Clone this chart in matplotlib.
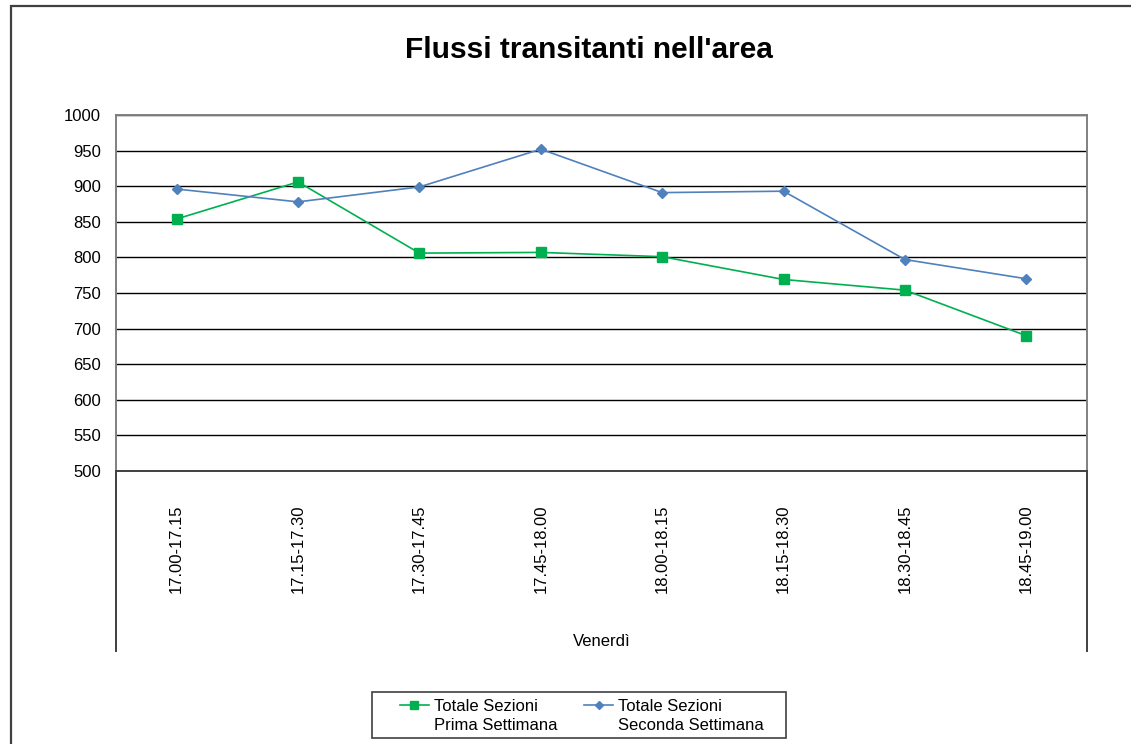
import matplotlib
matplotlib.use("Agg")
import matplotlib.pyplot as plt
from matplotlib.patches import Rectangle
from matplotlib.legend_handler import HandlerLine2D
from matplotlib.transforms import Affine2D

plt.rcParams['font.family'] = ['Liberation Sans', 'DejaVu Sans']

# fasce orarie del venerdì
fasce = ["17.00-17.15", "17.15-17.30", "17.30-17.45", "17.45-18.00",
         "18.00-18.15", "18.15-18.30", "18.30-18.45", "18.45-19.00"]
prima_settimana = [854, 906, 806, 807, 801, 769, 754, 690]
seconda_settimana = [896, 878, 899, 952, 891, 893, 797, 770]
yticks = list(range(500, 1001, 50))

W, H = 1131, 744
fig = plt.figure(figsize=(W / 100, H / 100), dpi=100)

# cornice esterna del grafico
fig.add_artist(Rectangle((11 / W, -0.1), 2, 1 - 6 / H + 0.1, transform=fig.transFigure,
                         fill=False, edgecolor='#404040', linewidth=1.6))

left, right, top, bottom = 116, 1087, 115, 471
ax = fig.add_axes([left / W, 1 - bottom / H, (right - left) / W, (bottom - top) / H])

x = list(range(len(fasce)))
ax.plot(x, prima_settimana, color='#00B050', linewidth=1.2, marker='s', markersize=6.5,
        label="Totale Sezioni\nPrima Settimana")
ax.plot(x, seconda_settimana, color='#4F81BD', linewidth=1.2, marker='D', markersize=5,
        label="Totale Sezioni\nSeconda Settimana")

ax.set_xlim(-0.5, len(fasce) - 0.5)
ax.set_ylim(500, 1000)
ax.set_yticks(yticks)
ax.set_yticklabels([str(v) for v in yticks], fontsize=12)
ax.set_xticks(x)
ax.set_xticklabels(fasce, rotation=90, fontsize=12, va='top')
ax.tick_params(axis='both', length=0)
ax.tick_params(axis='x', pad=24)
ax.tick_params(axis='y', pad=11)

ax.grid(axis='y', color='black', linewidth=1)
ax.set_axisbelow(True)
for s in ['left', 'top', 'right']:
    ax.spines[s].set_color('#808080')
    ax.spines[s].set_linewidth(1.4)
ax.spines['bottom'].set_color('#404040')
ax.spines['bottom'].set_linewidth(1.4)

# prolungamento dell'asse delle categorie
ext = -(651 - bottom) / (bottom - top)
for xa in (0, 1):
    ax.plot([xa, xa], [0, ext], transform=ax.transAxes, clip_on=False,
            color='#404040', linewidth=1.4)

fig.text((left + right) / 2 / W, 1 - 641 / H, "Venerdì", ha='center', va='center', fontsize=12)
fig.text(589 / W, 1 - 50 / H, "Flussi transitanti nell'area", ha='center', va='center',
         fontsize=21.5, fontweight='bold')


# simbolo della legenda allineato alla prima riga del testo
class PrimaRiga(HandlerLine2D):
    def create_artists(self, legend, orig_handle, xdescent, ydescent, width, height,
                       fontsize, trans):
        trans = trans + Affine2D().translate(0, 11)
        return super().create_artists(legend, orig_handle, xdescent, ydescent, width,
                                      height, fontsize, trans)


handles, labels = ax.get_legend_handles_labels()
leg = fig.legend(handles, labels, loc='center', bbox_to_anchor=(582 / W, 1 - 716 / H), ncol=2,
                 fontsize=12, frameon=False, handlelength=1.75, markerscale=0.8,
                 handletextpad=0.3, columnspacing=1.6,
                 handler_map={h: PrimaRiga(numpoints=1) for h in handles})
for t in leg.get_texts():
    t.set_linespacing(1.4)
fig.add_artist(Rectangle((372 / W, 1 - 738 / H), (786 - 372) / W, (738 - 692) / H,
                         transform=fig.transFigure, fill=False, edgecolor='#404040',
                         linewidth=1.2))

fig.savefig("out.png", dpi=100)
